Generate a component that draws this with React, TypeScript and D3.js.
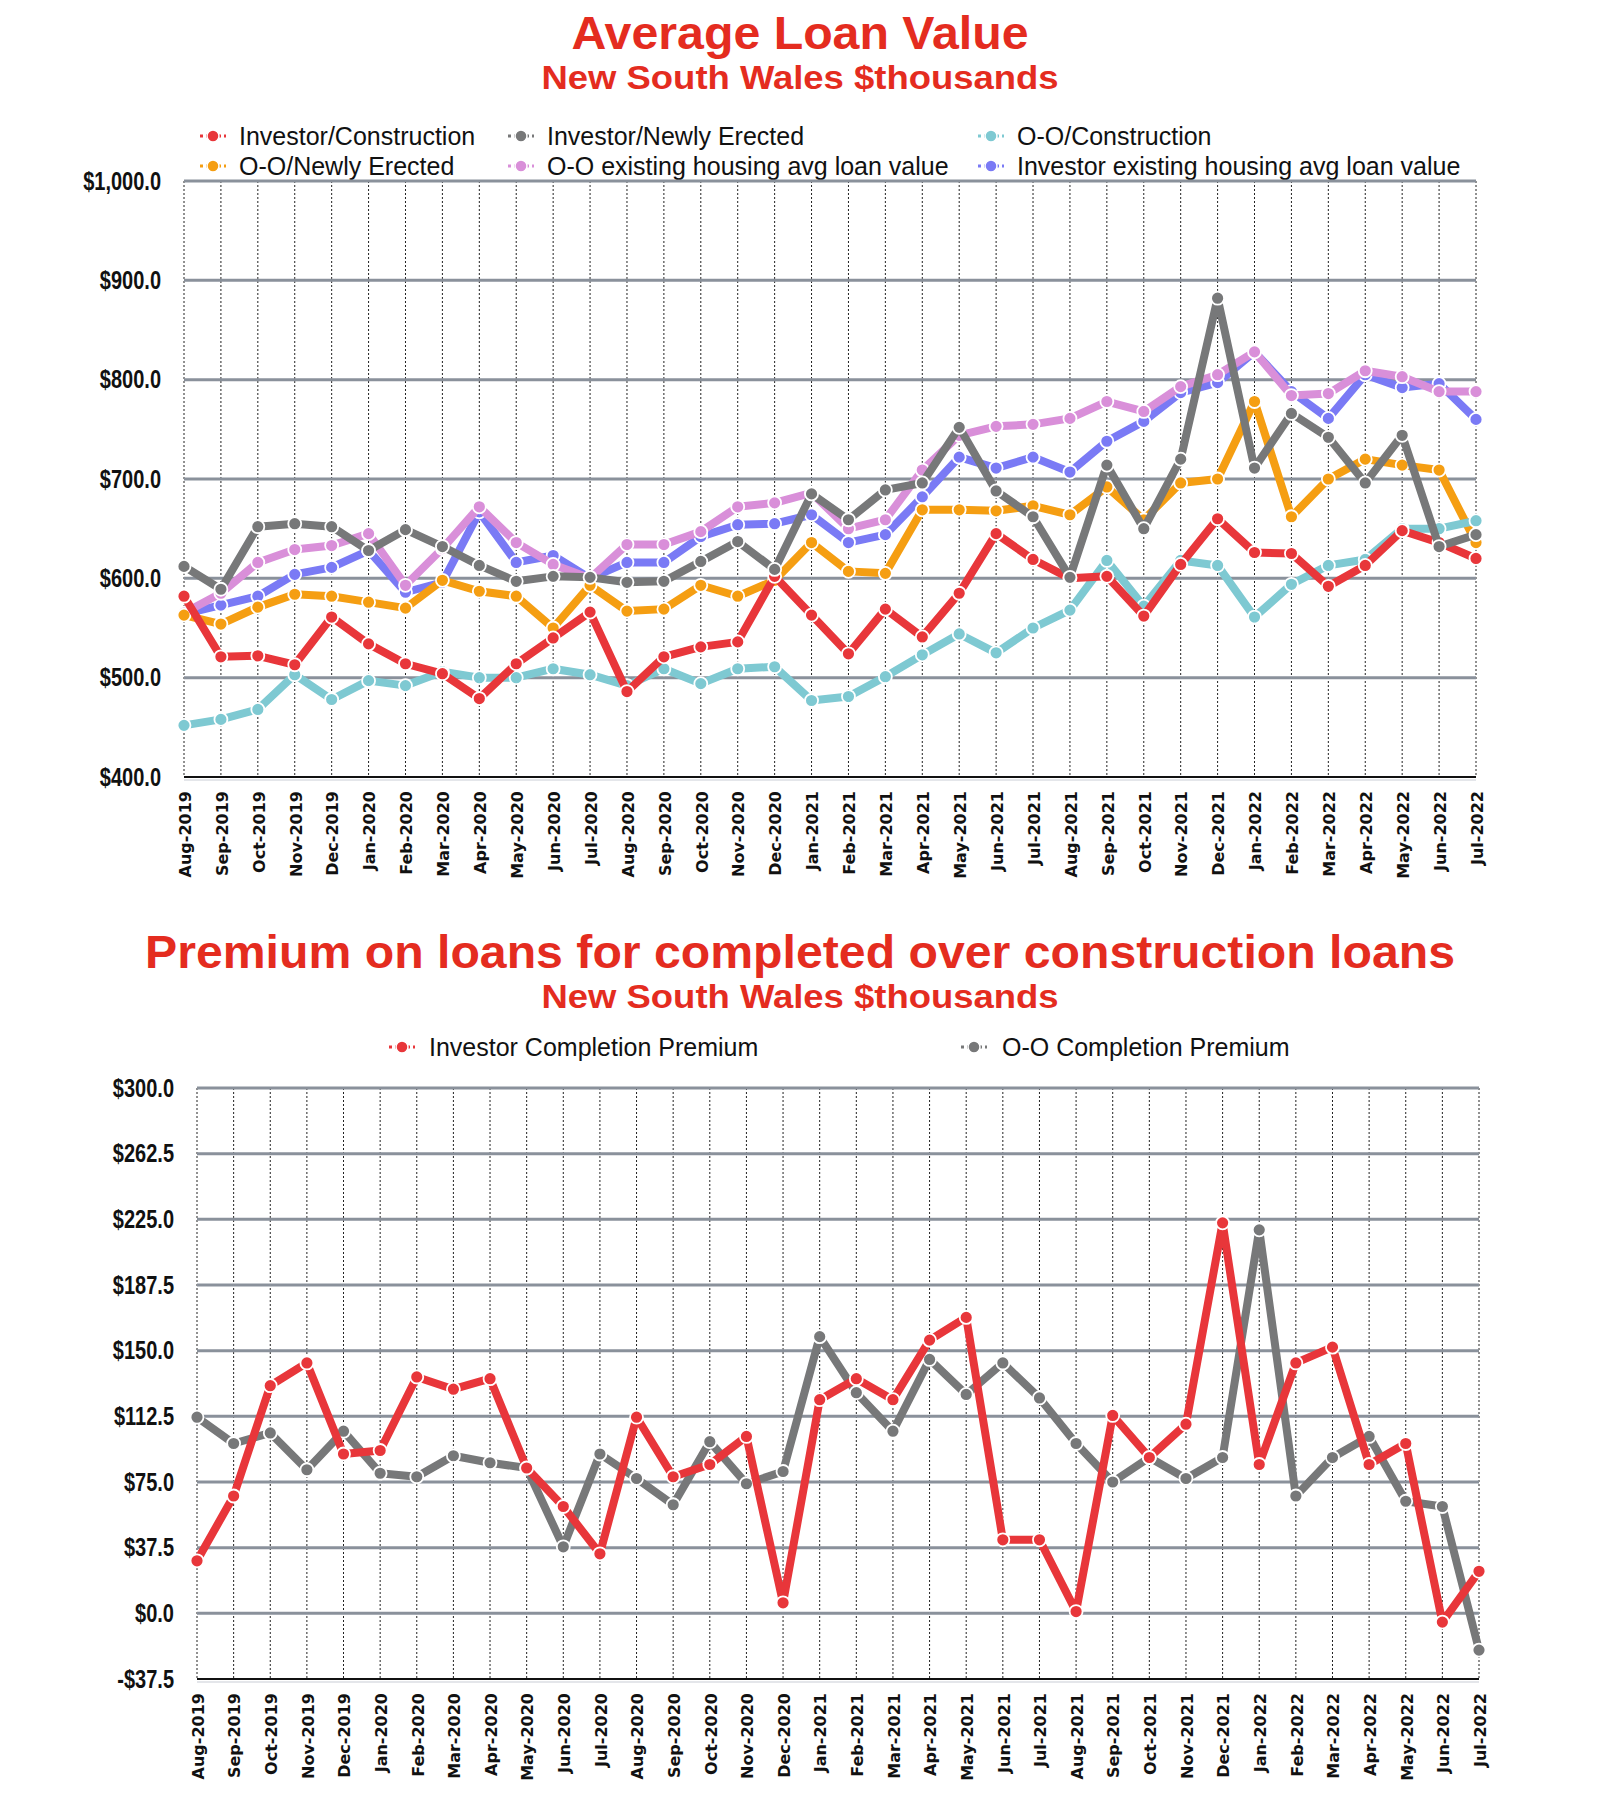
import React, { useEffect, useRef } from "react";
import * as d3 from "d3";

// month labels shared by both charts
const months = [
  "Aug-2019", "Sep-2019", "Oct-2019", "Nov-2019", "Dec-2019",
  "Jan-2020", "Feb-2020", "Mar-2020", "Apr-2020", "May-2020", "Jun-2020", "Jul-2020",
  "Aug-2020", "Sep-2020", "Oct-2020", "Nov-2020", "Dec-2020",
  "Jan-2021", "Feb-2021", "Mar-2021", "Apr-2021", "May-2021", "Jun-2021", "Jul-2021",
  "Aug-2021", "Sep-2021", "Oct-2021", "Nov-2021", "Dec-2021",
  "Jan-2022", "Feb-2022", "Mar-2022", "Apr-2022", "May-2022", "Jun-2022", "Jul-2022",
];

// top chart series ($thousands)
const investorConstruction = [582, 521, 522, 513, 561, 534, 514, 504, 479, 514, 540, 566, 486, 521, 531, 536, 602, 563, 524, 569, 541, 585, 645, 619, 600, 602, 562, 614, 660, 626, 625, 592, 613, 648, 636, 620];
const investorNewlyErected = [612, 589, 652, 655, 652, 628, 649, 632, 613, 597, 602, 601, 596, 597, 617, 637, 609, 685, 659, 689, 696, 752, 688, 662, 601, 714, 650, 720, 882, 711, 766, 742, 696, 744, 632, 644];
const ooConstruction = [452, 458, 468, 503, 478, 497, 492, 506, 500, 500, 509, 503, 492, 509, 494, 509, 511, 477, 481, 501, 523, 544, 525, 550, 568, 618, 572, 618, 613, 561, 594, 613, 619, 650, 650, 658];
const ooNewlyErected = [563, 554, 571, 584, 582, 576, 570, 598, 587, 582, 550, 593, 567, 569, 593, 582, 598, 636, 607, 605, 669, 669, 668, 673, 664, 692, 659, 696, 700, 778, 662, 700, 720, 714, 709, 636];
const ooExisting = [565, 585, 616, 629, 633, 645, 593, 630, 672, 636, 614, 600, 634, 634, 647, 672, 676, 686, 650, 659, 709, 744, 753, 755, 761, 778, 768, 793, 805, 828, 784, 786, 809, 803, 788, 788];
const investorExisting = [564, 573, 582, 604, 611, 628, 586, 596, 667, 616, 623, 600, 616, 616, 642, 654, 655, 664, 636, 644, 682, 722, 711, 722, 707, 738, 758, 787, 797, 828, 788, 761, 805, 792, 796, 760];

// bottom chart series
const investorPremium = [30, 67, 130, 143, 91, 93, 135, 128, 134, 83, 61, 34, 112, 78, 85, 101, 6, 122, 134, 122, 156, 169, 42, 42, 1, 113, 89, 108, 223, 85, 143, 152, 85, 97, -5, 24];
const ooPremium = [112, 97, 103, 82, 104, 80, 78, 90, 86, 83, 38, 91, 77, 62, 98, 74, 81, 158, 126, 104, 145, 125, 143, 123, 97, 75, 89, 77, 89, 219, 67, 89, 101, 64, 61, -21];

const topTicks = [400, 500, 600, 700, 800, 900, 1000];
const bottomTicks = [-37.5, 0, 37.5, 75, 112.5, 150, 187.5, 225, 262.5, 300];

const RED = "#e8363a";
const GRAY = "#777879";
const TEAL = "#7ec9d2";
const ORANGE = "#f59e12";
const PINK = "#d98fd9";
const BLUE = "#7a7af5";
const TITLE_RED = "#e42c1f";

interface Series {
  name: string;
  values: number[];
  color: string;
}

const topSeries: Series[] = [
  { name: "Investor/Construction", values: investorConstruction, color: RED },
  { name: "Investor/Newly Erected", values: investorNewlyErected, color: GRAY },
  { name: "O-O/Construction", values: ooConstruction, color: TEAL },
  { name: "O-O/Newly Erected", values: ooNewlyErected, color: ORANGE },
  { name: "O-O existing housing avg loan value", values: ooExisting, color: PINK },
  { name: "Investor existing housing avg loan value", values: investorExisting, color: BLUE },
];

const bottomSeries: Series[] = [
  { name: "Investor Completion Premium", values: investorPremium, color: RED },
  { name: "O-O Completion Premium", values: ooPremium, color: GRAY },
];

const fmt = (v: number) => (v < 0 ? "-$" : "$") + d3.format(",.1f")(Math.abs(v));

function drawChart(
  svg: d3.Selection<SVGSVGElement, unknown, null, undefined>,
  opts: {
    x0: number; x1: number; yTop: number; yBottom: number;
    domain: [number, number]; ticks: number[];
    series: Series[]; order: number[]; labelX: number;
  }
) {
  const { x0, x1, yTop, yBottom, domain, ticks, series, order, labelX } = opts;
  const x = d3.scalePoint<string>().domain(months).range([x0, x1]);
  const y = d3.scaleLinear().domain(domain).range([yBottom, yTop]);
  const g = svg.append("g");

  // vertical dotted grid
  g.selectAll(".vgrid")
    .data(months)
    .join("line")
    .attr("x1", d => x(d)!)
    .attr("x2", d => x(d)!)
    .attr("y1", yTop)
    .attr("y2", yBottom)
    .attr("stroke", "#222")
    .attr("stroke-width", 1)
    .attr("stroke-dasharray", "2,2");

  // horizontal grid
  g.selectAll(".hgrid")
    .data(ticks.slice(1))
    .join("line")
    .attr("x1", x0)
    .attr("x2", x1)
    .attr("y1", d => y(d))
    .attr("y2", d => y(d))
    .attr("stroke", "#8a919b")
    .attr("stroke-width", 3);

  // axis baseline
  g.append("line")
    .attr("x1", x0).attr("x2", x1)
    .attr("y1", yBottom).attr("y2", yBottom)
    .attr("stroke", "#111").attr("stroke-width", 2);
  g.append("line")
    .attr("x1", x0).attr("x2", x1)
    .attr("y1", yBottom + 3).attr("y2", yBottom + 3)
    .attr("stroke", "#e4e6ea").attr("stroke-width", 2);

  // y labels
  g.selectAll(".ylab")
    .data(ticks)
    .join("text")
    .attr("transform", d => `translate(${labelX},${y(d)}) scale(0.8,1)`)
    .attr("dy", "0.35em")
    .attr("text-anchor", "end")
    .attr("font-family", "'Liberation Sans', Arial, sans-serif")
    .attr("font-weight", 700)
    .attr("font-size", 25)
    .attr("fill", "#111")
    .text(d => fmt(d));

  // x labels
  g.selectAll(".xlab")
    .data(months)
    .join("text")
    .attr("transform", d => `translate(${x(d)! + 1},${yBottom + 14}) rotate(-90)`)
    .attr("dy", "0.36em")
    .attr("text-anchor", "end")
    .attr("font-family", "'DejaVu Sans', sans-serif")
    .attr("font-weight", 700)
    .attr("font-size", 16)
    .attr("fill", "#111")
    .text(d => d);

  const line = d3.line<number>()
    .x((_, i) => x(months[i])!)
    .y(d => y(d));

  order.forEach(si => {
    const s = series[si];
    const sg = g.append("g");
    sg.append("path")
      .attr("d", line(s.values))
      .attr("fill", "none")
      .attr("stroke", s.color)
      .attr("stroke-width", 8)
      .attr("stroke-linejoin", "round");
    sg.selectAll("circle")
      .data(s.values)
      .join("circle")
      .attr("cx", (_, i) => x(months[i])!)
      .attr("cy", d => y(d))
      .attr("r", 6.5)
      .attr("fill", s.color)
      .attr("stroke", "#fff")
      .attr("stroke-width", 1.8);
  });
}

function legendItem(
  svg: d3.Selection<SVGSVGElement, unknown, null, undefined>,
  s: Series, mx: number, tx: number, cy: number
) {
  const g = svg.append("g");
  g.append("line")
    .attr("x1", mx - 13).attr("x2", mx + 13)
    .attr("y1", cy).attr("y2", cy)
    .attr("stroke", s.color).attr("stroke-width", 3)
    .attr("stroke-dasharray", "3,3");
  g.append("circle")
    .attr("cx", mx).attr("cy", cy).attr("r", 6)
    .attr("fill", s.color).attr("stroke", "#fff").attr("stroke-width", 1.5);
  g.append("text")
    .attr("x", tx).attr("y", cy)
    .attr("dy", "0.35em")
    .attr("font-family", "'Liberation Sans', Arial, sans-serif")
    .attr("font-size", 25)
    .attr("fill", "#111")
    .text(s.name);
}

function title(
  svg: d3.Selection<SVGSVGElement, unknown, null, undefined>,
  text: string, y: number, size: number, width: number
) {
  svg.append("text")
    .attr("x", 800 - width / 2)
    .attr("y", y)
    .attr("textLength", width)
    .attr("lengthAdjust", "spacingAndGlyphs")
    .attr("font-family", "'Liberation Sans', Arial, sans-serif")
    .attr("font-weight", 700)
    .attr("font-size", size)
    .attr("fill", TITLE_RED)
    .text(text);
}

export default function App() {
  const svgRef = useRef<SVGSVGElement | null>(null);

  useEffect(() => {
    if (!svgRef.current) return;
    const svg = d3.select(svgRef.current);
    svg.selectAll("*").remove();

    svg.append("rect").attr("width", 1600).attr("height", 1800).attr("fill", "#fff");

    // top chart
    title(svg, "Average Loan Value", 49, 47, 457);
    title(svg, "New South Wales $thousands", 89, 34, 517);

    const legendCols = [
      { mx: 213, tx: 239 },
      { mx: 521, tx: 547 },
      { mx: 991, tx: 1017 },
    ];
    topSeries.forEach((s, i) => {
      const c = legendCols[i % 3];
      legendItem(svg, s, c.mx, c.tx, i < 3 ? 136 : 166);
    });

    drawChart(svg, {
      x0: 184, x1: 1476, yTop: 181, yBottom: 777,
      domain: [400, 1000], ticks: topTicks,
      series: topSeries, order: [5, 4, 3, 2, 0, 1], labelX: 161,
    });

    // bottom chart
    title(svg, "Premium on loans for completed over construction loans", 968, 47, 1310);
    title(svg, "New South Wales $thousands", 1008, 34, 517);

    legendItem(svg, bottomSeries[0], 402, 429, 1047);
    legendItem(svg, bottomSeries[1], 974, 1002, 1047);

    drawChart(svg, {
      x0: 197, x1: 1479, yTop: 1088, yBottom: 1679,
      domain: [-37.5, 300], ticks: bottomTicks,
      series: bottomSeries, order: [1, 0], labelX: 174,
    });
  }, []);

  return (
    <div style={{ position: "absolute", left: 0, top: 0 }}>
      <svg ref={svgRef} width={1600} height={1800} style={{ display: "block" }} />
    </div>
  );
}
